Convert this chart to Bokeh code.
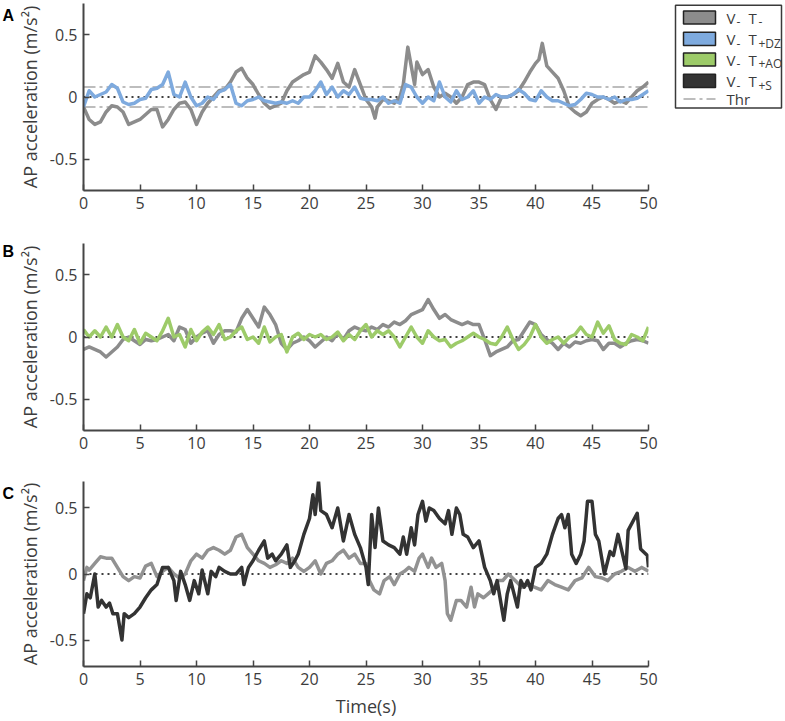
from bokeh.plotting import figure
from bokeh.models import Range1d, FixedTicker, Span
from bokeh.layouts import column, row
from bokeh.embed import file_html
from bokeh.resources import INLINE
from bokeh.core.properties import value

# ---------------- data ----------------
# Panel A: V- T-  (grey)
a_gray_t = [0, 0.5, 1, 1.5, 2, 2.5, 3, 3.5, 4, 4.5,
            5, 5.5, 6, 6.5, 7, 7.5, 8, 8.5, 9, 9.5,
            10, 10.5, 11, 11.5, 12, 12.5, 13, 13.5, 14, 14.5,
            15, 15.5, 16, 16.5, 17, 17.5, 18, 18.5, 19, 19.5,
            20, 20.5, 21, 21.5, 22, 22.5, 23, 23.5, 24, 24.5,
            25, 25.5, 25.8, 26, 26.5, 27, 27.5, 28, 28.3, 28.7,
            29, 29.3, 29.5, 30, 30.5, 31, 31.5, 32, 32.5, 33,
            33.5, 34, 34.5, 35, 35.5, 36, 36.5, 37, 37.5, 38,
            38.5, 39, 39.5, 40, 40.3, 40.6, 41, 41.5, 42, 42.5,
            43, 43.5, 44, 44.5, 45, 45.5, 46, 46.5, 47, 47.5,
            48, 48.5, 49, 49.5, 50]
a_gray_v = [-0.08, -0.18, -0.22, -0.20, -0.12, -0.07, -0.08, -0.12, -0.22, -0.20,
            -0.18, -0.14, -0.10, -0.10, -0.24, -0.18, -0.10, -0.05, -0.04, -0.10,
            -0.22, -0.12, -0.05, 0.00, 0.05, 0.06, 0.12, 0.20, 0.23, 0.15,
            0.10, 0.02, -0.05, -0.09, -0.07, -0.05, 0.05, 0.12, 0.15, 0.18,
            0.20, 0.33, 0.28, 0.22, 0.15, 0.27, 0.12, 0.08, 0.22, 0.10,
            -0.02, -0.08, -0.17, -0.08, -0.02, -0.03, -0.05, 0.00, 0.10, 0.40,
            0.25, 0.10, 0.28, 0.18, 0.22, 0.08, 0.00, 0.03, 0.00, -0.05,
            0.00, 0.10, 0.12, 0.12, 0.10, -0.02, -0.10, 0.00, 0.00, 0.02,
            0.05, 0.12, 0.20, 0.27, 0.30, 0.43, 0.25, 0.20, 0.15, 0.05,
            -0.08, -0.12, -0.15, -0.12, -0.05, -0.02, 0.00, -0.02, -0.05, -0.03,
            -0.05, 0.00, 0.05, 0.08, 0.12]

# Half-second time base shared by the evenly read series
t_half = [0, 0.5, 1, 1.5, 2, 2.5, 3, 3.5, 4, 4.5,
          5, 5.5, 6, 6.5, 7, 7.5, 8, 8.5, 9, 9.5,
          10, 10.5, 11, 11.5, 12, 12.5, 13, 13.5, 14, 14.5,
          15, 15.5, 16, 16.5, 17, 17.5, 18, 18.5, 19, 19.5,
          20, 20.5, 21, 21.5, 22, 22.5, 23, 23.5, 24, 24.5,
          25, 25.5, 26, 26.5, 27, 27.5, 28, 28.5, 29, 29.5,
          30, 30.5, 31, 31.5, 32, 32.5, 33, 33.5, 34, 34.5,
          35, 35.5, 36, 36.5, 37, 37.5, 38, 38.5, 39, 39.5,
          40, 40.5, 41, 41.5, 42, 42.5, 43, 43.5, 44, 44.5,
          45, 45.5, 46, 46.5, 47, 47.5, 48, 48.5, 49, 49.5,
          50]

# Panel A: V- T+DZ (blue)
a_blue_v = [-0.08, 0.05, 0.00, 0.02, 0.04, 0.10, 0.07, -0.04, -0.06, -0.05,
            -0.02, -0.01, 0.06, 0.07, 0.10, 0.20, 0.02, 0.00, 0.12, 0.00,
            -0.07, -0.05, 0.00, -0.02, 0.04, 0.06, 0.10, -0.05, -0.07, -0.03,
            -0.02, 0.00, -0.03, -0.04, -0.05, -0.04, -0.05, -0.03, -0.05, 0.00,
            0.00, 0.05, 0.12, 0.02, 0.08, 0.00, 0.05, 0.02, 0.08, -0.01,
            -0.02, -0.02, -0.03, 0.00, -0.05, -0.03, -0.05, 0.10, 0.08, 0.00,
            -0.05, 0.00, -0.03, 0.12, 0.00, -0.04, 0.05, -0.02, 0.00, 0.05,
            -0.05, 0.00, -0.02, 0.02, 0.00, 0.00, 0.02, 0.06, 0.03, -0.02,
            -0.03, 0.05, 0.00, -0.03, -0.03, -0.05, -0.07, -0.06, -0.02, 0.03,
            0.02, 0.00, 0.00, -0.02, 0.00, -0.04, -0.02, -0.02, -0.01, 0.02,
            0.05]

# Panel B: V- T- (grey)
b_gray_v = [-0.10, -0.08, -0.10, -0.12, -0.16, -0.12, -0.08, -0.02, 0.00, -0.03,
            -0.06, -0.02, -0.03, -0.02, 0.00, 0.02, -0.03, 0.08, 0.06, -0.05,
            0.00, 0.03, 0.05, -0.05, 0.02, 0.05, 0.05, 0.04, 0.15, 0.22,
            0.15, 0.08, 0.24, 0.18, 0.10, -0.05, -0.10, -0.05, -0.03, 0.00,
            -0.03, -0.08, -0.04, 0.00, -0.03, 0.03, -0.02, 0.05, 0.08, 0.06,
            0.05, 0.08, 0.06, 0.10, 0.08, 0.12, 0.10, 0.13, 0.18, 0.20,
            0.22, 0.30, 0.22, 0.15, 0.18, 0.14, 0.12, 0.10, 0.12, 0.10,
            0.10, -0.02, -0.15, -0.12, -0.10, -0.08, -0.03, -0.02, 0.05, 0.12,
            0.10, 0.02, -0.02, -0.05, -0.10, -0.05, -0.08, -0.04, -0.05, -0.03,
            -0.02, -0.03, -0.10, -0.05, -0.05, -0.08, -0.05, -0.03, -0.02, -0.03,
            -0.05]

# Panel B: V- T+AO (green)
b_green_v = [0.06, 0.00, 0.05, 0.00, 0.08, 0.00, 0.10, 0.00, -0.03, 0.06,
             -0.05, 0.03, 0.00, -0.03, 0.05, 0.15, 0.00, 0.02, -0.08, 0.06,
             -0.03, 0.04, 0.08, 0.02, 0.10, -0.02, 0.00, 0.05, 0.08, -0.02,
             0.00, -0.05, 0.08, -0.04, 0.00, 0.02, -0.12, 0.00, 0.03, -0.02,
             0.02, 0.00, 0.02, -0.02, 0.00, 0.04, -0.03, 0.02, -0.02, 0.05,
             0.10, 0.00, 0.05, 0.02, 0.05, 0.00, -0.08, 0.00, 0.08, 0.00,
             -0.05, 0.05, 0.00, -0.03, -0.02, -0.08, -0.05, -0.03, 0.00, 0.03,
             0.00, -0.02, -0.05, -0.06, 0.00, 0.08, -0.02, -0.10, -0.06, 0.00,
             0.10, 0.00, -0.05, -0.02, 0.00, -0.05, 0.00, 0.02, 0.08, 0.02,
             0.00, 0.12, 0.03, 0.09, -0.02, -0.05, -0.06, 0.02, 0.00, -0.03,
             0.08]

# Panel C: V- T- (grey)
c_gray_t = [0, 0.3, 0.5, 1, 1.5, 2, 2.5, 3, 3.5, 4,
            4.5, 5, 5.5, 6, 6.5, 7, 7.5, 8, 8.5, 9,
            9.5, 10, 10.5, 11, 11.5, 12, 12.5, 13, 13.5, 14,
            14.5, 15, 15.5, 16, 16.5, 17, 17.5, 18, 18.5, 19,
            19.5, 20, 20.5, 21, 21.5, 22, 22.5, 23, 23.5, 24,
            24.5, 25, 25.3, 25.7, 26.2, 26.6, 27.1, 27.5, 28, 28.4,
            28.8, 29.3, 29.7, 30, 30.5, 30.8, 31.2, 31.7, 32, 32.2,
            32.5, 33, 33.4, 33.9, 34.3, 34.6, 34.9, 35.4, 35.8, 36.2,
            36.7, 37.1, 37.6, 38.2, 38.8, 39.3, 39.9, 40.5, 41.1, 41.7,
            42.3, 42.9, 43.5, 44.1, 44.7, 45.3, 45.9, 46.4, 47, 47.6,
            48.2, 48.8, 49.4, 50]
c_gray_v = [-0.05, 0.05, 0.03, 0.08, 0.13, 0.12, 0.12, 0.05, -0.02, -0.05,
            -0.02, -0.03, 0.06, 0.08, -0.02, 0.02, 0.05, 0.00, -0.03, 0.00,
            0.10, 0.15, 0.12, 0.18, 0.20, 0.18, 0.15, 0.18, 0.28, 0.30,
            0.20, 0.15, 0.10, 0.08, 0.05, 0.07, 0.10, 0.08, 0.12, 0.05,
            0.02, 0.05, 0.10, 0.00, 0.08, 0.10, 0.15, 0.18, 0.12, 0.15,
            0.08, 0.08, -0.05, -0.12, -0.15, -0.05, -0.02, -0.08, 0.00, 0.02,
            0.05, 0.02, 0.12, 0.15, 0.05, 0.12, 0.05, 0.08, -0.05, -0.30,
            -0.35, -0.20, -0.20, -0.25, -0.10, -0.25, -0.15, -0.18, -0.15, -0.12,
            -0.05, -0.05, 0.00, -0.05, -0.10, -0.08, -0.10, -0.12, -0.05, -0.08,
            -0.10, -0.12, -0.05, -0.03, 0.05, -0.02, -0.03, -0.05, 0.00, 0.02,
            0.05, 0.02, 0.05, 0.02]

# Panel C: V- T+S (black)
c_black_t = [0, 0.3, 0.6, 1.0, 1.3, 1.6, 2.0, 2.3, 2.6, 3.0,
             3.4, 3.6, 4.0, 4.5, 5.0, 5.5, 6.0, 6.5, 7.0, 7.5,
             8.0, 8.2, 8.6, 9.0, 9.4, 9.8, 10.2, 10.5, 11.0, 11.3,
             11.7, 12.0, 12.5, 13.0, 13.5, 14.0, 14.2, 14.6, 15.0, 15.5,
             16.0, 16.3, 16.7, 17.0, 17.5, 18.0, 18.3, 18.7, 19.0, 19.5,
             20.0, 20.3, 20.5, 20.8, 21.0, 21.5, 22.0, 22.5, 23.0, 23.5,
             24.0, 24.5, 25.0, 25.2, 25.5, 25.8, 26.1, 26.5, 27.0, 27.5,
             28.0, 28.3, 28.6, 29.0, 29.3, 29.6, 30.0, 30.3, 30.6, 31.0,
             31.5, 32.0, 32.3, 32.6, 33.0, 33.3, 33.6, 34.0, 34.5, 35.0,
             35.5, 36.0, 36.3, 36.6, 37.2, 37.5, 37.8, 38.4, 38.7, 39.0,
             39.3, 39.6, 40.0, 40.5, 41.0, 41.5, 42.0, 42.3, 42.6, 42.9,
             43.2, 43.6, 44.0, 44.3, 44.6, 45.0, 45.3, 45.6, 46.1, 46.6,
             46.9, 47.3, 48.0, 48.2, 49.0, 49.3, 49.9, 50.0]
c_black_v = [-0.30, -0.15, -0.18, 0.00, -0.25, -0.20, -0.25, -0.22, -0.30, -0.30,
             -0.50, -0.30, -0.33, -0.30, -0.25, -0.18, -0.12, -0.08, 0.05, 0.05,
             -0.05, -0.20, 0.02, -0.08, -0.20, -0.05, -0.15, 0.03, -0.15, 0.02,
             -0.02, 0.05, 0.02, 0.00, 0.00, 0.05, -0.08, 0.05, 0.10, 0.18,
             0.25, 0.12, 0.15, 0.10, 0.15, 0.22, 0.05, 0.10, 0.15, 0.30,
             0.42, 0.60, 0.45, 0.70, 0.48, 0.45, 0.35, 0.50, 0.25, 0.45,
             0.30, 0.20, 0.05, -0.08, 0.45, 0.20, 0.50, 0.25, 0.22, 0.20,
             0.15, 0.28, 0.15, 0.35, 0.22, 0.45, 0.55, 0.40, 0.50, 0.48,
             0.42, 0.38, 0.48, 0.30, 0.50, 0.45, 0.30, 0.28, 0.20, 0.25,
             0.05, -0.05, -0.15, -0.05, -0.35, -0.15, -0.05, -0.25, -0.05, -0.10,
             -0.05, -0.12, 0.05, 0.08, 0.15, 0.30, 0.42, 0.45, 0.35, 0.45,
             0.15, 0.08, 0.15, 0.25, 0.55, 0.55, 0.30, 0.25, 0.00, 0.17,
             0.14, 0.30, 0.04, 0.33, 0.46, 0.19, 0.14, 0.05]

THRESHOLD = 0.08
x_ticks = [0, 5, 10, 15, 20, 25, 30, 35, 40, 45, 50]
y_ticks = [-0.5, 0, 0.5]
y_tick_labels = {-0.5: "-0.5", 0: "0", 0.5: "0.5"}
y_label = "AP acceleration (m/s²)"
x_label = "Time(s)"
panel_letters = ["A", "B", "C"]
legend_names = [("V", "-", "T", "-"), ("V", "-", "T", "+DZ"),
                ("V", "-", "T", "+AO"), ("V", "-", "T", "+S")]

# ---------------- style ----------------
FONT = "Open Sans"
AXIS_COLOR = "#454545"
TEXT_COLOR = "#3c3c3c"
C_GRAY = "#8c8c8c"
C_BLUE = "#7eaade"
C_GREEN = "#9dcb69"
C_BLACK = "#333333"
C_THR = "#a8a8a8"
LW = 3.5
LETTER_W = 14
FIG_W = 646
LEFT = 68


def make_letter(letter, height, baseline_y):
    f = figure(width=LETTER_W, height=height, title=None,
               x_range=Range1d(0, LETTER_W), y_range=Range1d(height, 0),
               output_backend="svg", toolbar_location=None,
               x_axis_location=None, y_axis_location=None, min_border=0)
    f.outline_line_color = None
    f.grid.visible = False
    f.text(x=[2], y=[baseline_y], text=[letter],
           text_font=value("Liberation Sans"), text_font_style="bold",
           text_font_size=value("16px"), text_color="black",
           text_baseline="alphabetic", text_align="left")
    return f


def make_panel(ylim, height, top, bottom, with_xlabel=False):
    p = figure(width=FIG_W, height=height, title=None,
               x_range=Range1d(0, 50), y_range=Range1d(-ylim, ylim),
               output_backend="svg", toolbar_location=None,
               min_border_left=LEFT, min_border_right=12,
               min_border_top=top, min_border_bottom=bottom)
    p.outline_line_color = None
    p.grid.visible = False
    p.background_fill_color = "white"
    p.border_fill_color = "white"
    p.xaxis.ticker = FixedTicker(ticks=x_ticks)
    p.yaxis.ticker = FixedTicker(ticks=y_ticks)
    p.yaxis.major_label_overrides = y_tick_labels
    for ax in (p.xaxis[0], p.yaxis[0]):
        ax.axis_line_color = AXIS_COLOR
        ax.axis_line_width = 2
        ax.major_tick_line_color = AXIS_COLOR
        ax.major_tick_line_width = 1.5
        ax.major_tick_in = 6
        ax.major_tick_out = 0
        ax.minor_tick_in = 0
        ax.minor_tick_out = 0
        ax.major_label_text_font = FONT
        ax.major_label_text_font_size = "16px"
        ax.major_label_text_color = TEXT_COLOR
        ax.major_label_standoff = 6
        ax.axis_label_text_font = FONT
        ax.axis_label_text_font_size = "18px"
        ax.axis_label_text_font_style = "normal"
        ax.axis_label_text_color = TEXT_COLOR
    p.yaxis.axis_label = y_label
    p.yaxis.axis_label_standoff = 5
    if with_xlabel:
        p.xaxis.axis_label = x_label
        p.xaxis.axis_label_standoff = 6
    # zero reference (dotted)
    p.add_layout(Span(location=0, dimension="width", line_color="black",
                      line_dash="2 4", line_width=1.5, level="underlay"))
    return p


H_A, H_B, H_C = 227, 239, 254

pa = make_panel(0.75, H_A, 3, 37)
for loc in (THRESHOLD, -THRESHOLD):
    pa.add_layout(Span(location=loc, dimension="width", line_color=C_THR,
                       line_dash="12 4 3 4", line_width=1.5, level="underlay"))
pa.line(a_gray_t, a_gray_v, line_color=C_GRAY, line_width=LW, line_join="round")
pa.line(t_half, a_blue_v, line_color=C_BLUE, line_width=LW, line_join="round")

pb = make_panel(0.75, H_B, 16, 36)
pb.line(t_half, b_gray_v, line_color=C_GRAY, line_width=LW, line_join="round")
pb.line(t_half, b_green_v, line_color=C_GREEN, line_width=LW, line_join="round")

pc = make_panel(0.7, H_C, 15, 53, with_xlabel=True)
pc.line(c_gray_t, c_gray_v, line_color="#929292", line_width=LW, line_join="round")
pc.line(c_black_t, c_black_v, line_color=C_BLACK, line_width=LW, line_join="round")

la = make_letter(panel_letters[0], H_A, 14)
lb = make_letter(panel_letters[1], H_B, 10)
lc = make_letter(panel_letters[2], H_C, 16)

# ---------------- legend (drawn in its own pixel-space figure) ----------------
LEG_W, LEG_H = 124, H_A
pl = figure(width=LEG_W, height=LEG_H, title=None,
            x_range=Range1d(0, LEG_W), y_range=Range1d(LEG_H, 0),
            output_backend="svg", toolbar_location=None,
            x_axis_location=None, y_axis_location=None, min_border=0)
pl.outline_line_color = None
pl.grid.visible = False
pl.quad(left=[15], right=[121], top=[2], bottom=[127], fill_color="white",
        line_color="#3a3a3a", line_width=1.5)
row_y = [17, 43, 68, 94]
pl.quad(left=[23] * 4, right=[55] * 4,
        top=[y - 8 for y in row_y], bottom=[y + 8 for y in row_y],
        fill_color=[C_GRAY, C_BLUE, C_GREEN, C_BLACK],
        line_color="#222222", line_width=1.5)
xs, ys, texts, sizes = [], [], [], []
for y, (a, sa, b, sb) in zip(row_y, legend_names):
    xs += [66, 76, 88, 98]
    ys += [y, y + 5, y, y + 5]
    texts += [a, sa, b, sb]
    sizes += ["15px", "12px", "15px", "12px"]
thr_y = 116
xs.append(66)
ys.append(thr_y)
texts.append("Thr")
sizes.append("15px")
pl.text(x=xs, y=ys, text=texts, text_font_size=sizes,
        text_font=value(FONT), text_color=TEXT_COLOR,
        text_baseline="middle", text_align="left")
pl.line([23, 55], [thr_y, thr_y], line_color=C_THR, line_width=1.5,
        line_dash="12 4 3 4")

layout = column(row(la, pa, pl), row(lb, pb), row(lc, pc))
open("out.html", "w").write(file_html(layout, INLINE))
